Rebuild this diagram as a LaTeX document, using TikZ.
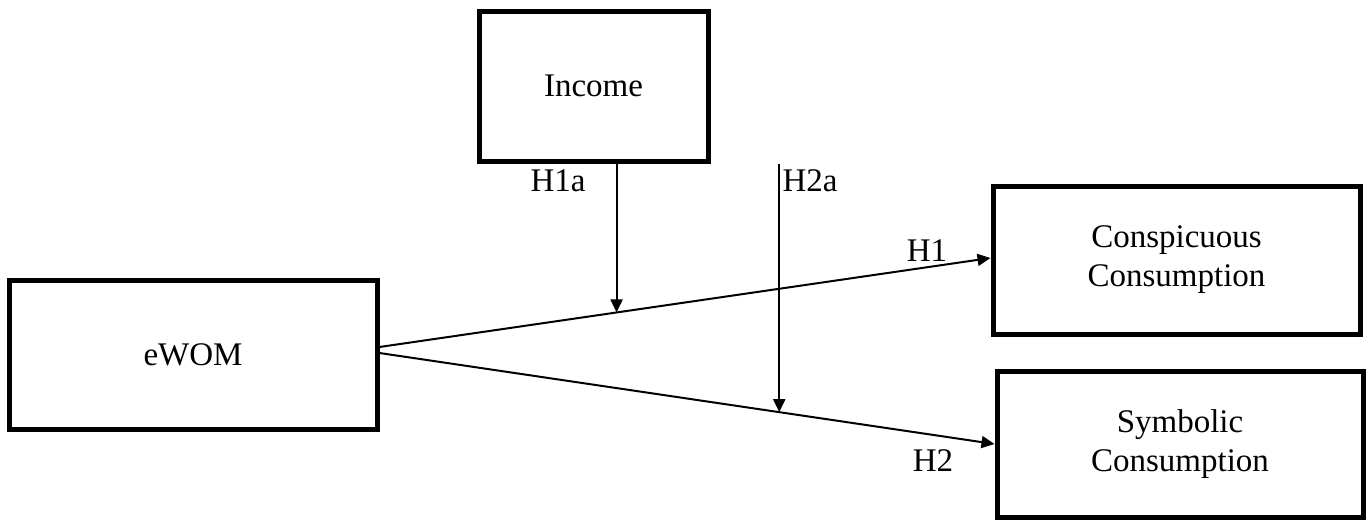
\documentclass[tikz,border=0pt]{standalone}
\usepackage{fontspec}
\setmainfont{Liberation Serif}
\usetikzlibrary{arrows.meta}
\tikzset{
  varbox/.style={draw, line width=2.5pt, align=center, inner sep=0pt},
  hyparrow/.style={line width=1pt, -{Triangle[length=6.5pt,width=6pt]}}
}
\begin{document}
\begin{tikzpicture}[x=0.5pt,y=-0.5pt,font=\fontsize{16.5}{19.5}\selectfont]
			\useasboundingbox (0,0) rectangle (1372,520);
			\node[varbox, minimum width=114.5pt, minimum height=75pt] (income) at (593.5,86) {Income};
			\node[varbox, minimum width=184pt, minimum height=74.5pt] (ewom) at (193,354.5) {eWOM};
			\node[varbox, minimum width=183.5pt, minimum height=74pt] (consp) at (1176.5,260) {Conspicuous\\Consumption};
			\node[varbox, minimum width=183pt, minimum height=73pt] (symb) at (1180,444) {Symbolic\\Consumption};
			\draw[hyparrow] ([yshift=3.75pt]ewom.east) -- coordinate[pos=0.388] (m1) ([yshift=1pt]consp.west);
			\draw[hyparrow] ([yshift=0.75pt]ewom.east) -- coordinate[pos=0.65] (m2) (symb.west);
			\draw[hyparrow] (m1 |- income.south) -- (m1);
			\draw[hyparrow] (m2 |- income.south) -- (m2);
			\node (h1a) at (558,181) {H1a};
			\node (h2a) at (810,181) {H2a};
			\node (h1) at (927,251) {H1};
			\node (h2) at (933,461) {H2};
		\end{tikzpicture}
\end{document}
